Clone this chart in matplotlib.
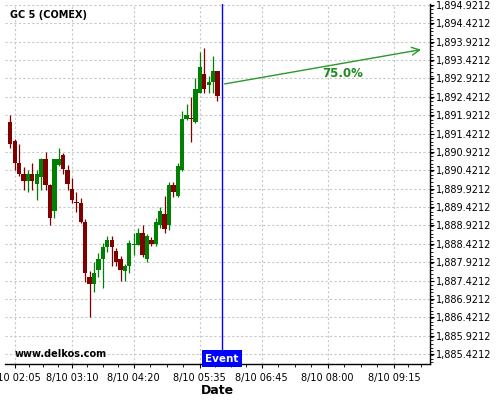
import matplotlib
matplotlib.use("Agg")
import matplotlib.pyplot as plt
import matplotlib.dates as mdates
from matplotlib.ticker import FuncFormatter, MultipleLocator
import numpy as np
import pandas as pd

# 5-minute candles, GC 5 (COMEX), 8/10 02:00 - 05:55
start = "2015-08-10 02:00"
opens = [1891.74, 1891.21, 1890.63, 1890.32, 1890.14, 1890.32, 1890.04, 1890.25, 1890.72, 1890.02,
         1889.32, 1890.57, 1890.84, 1890.43, 1889.91, 1889.56, 1889.52, 1889.02, 1887.53, 1887.33,
         1887.71, 1888.01, 1888.33, 1888.53, 1888.23, 1888.01, 1887.68, 1887.82, 1888.39, 1888.40,
         1888.72, 1888.01, 1888.53, 1888.42, 1888.93, 1889.23, 1888.93, 1890.02, 1889.73, 1890.43,
         1891.82, 1891.85, 1891.75, 1892.53, 1893.04, 1892.74, 1892.83, 1893.12]
highs = [1891.92, 1891.27, 1891.14, 1890.52, 1890.43, 1890.61, 1890.43, 1890.75, 1890.91, 1890.05,
         1890.74, 1891.02, 1890.90, 1890.57, 1890.21, 1889.82, 1889.67, 1889.10, 1887.68, 1887.93,
         1888.16, 1888.44, 1888.63, 1888.63, 1888.31, 1888.09, 1887.87, 1888.53, 1888.71, 1888.84,
         1888.93, 1888.69, 1888.61, 1889.12, 1889.43, 1889.72, 1890.11, 1890.11, 1890.61, 1892.04,
         1892.22, 1892.43, 1892.93, 1893.63, 1893.74, 1892.99, 1893.53, 1893.13]
lows = [1891.02, 1890.43, 1890.28, 1889.90, 1889.83, 1889.90, 1889.61, 1889.90, 1889.90, 1888.93,
        1889.12, 1890.55, 1890.31, 1889.90, 1889.52, 1889.30, 1888.99, 1887.39, 1886.42, 1887.10,
        1887.52, 1887.21, 1888.21, 1887.82, 1887.82, 1887.42, 1887.41, 1887.62, 1888.12, 1888.39,
        1888.06, 1887.92, 1888.36, 1888.36, 1888.85, 1888.72, 1888.80, 1889.70, 1889.70, 1890.40,
        1891.79, 1891.20, 1891.72, 1892.52, 1892.52, 1892.52, 1892.52, 1892.32]
closes = [1891.15, 1890.63, 1890.33, 1890.14, 1890.32, 1890.14, 1890.31, 1890.72, 1890.03, 1889.13,
          1890.72, 1890.72, 1890.45, 1890.04, 1889.61, 1889.53, 1889.02, 1887.63, 1887.33, 1887.63,
          1888.01, 1888.33, 1888.53, 1888.33, 1887.93, 1887.71, 1887.82, 1888.44, 1888.41, 1888.72,
          1888.12, 1888.63, 1888.41, 1889.01, 1889.31, 1888.82, 1890.02, 1889.84, 1890.54, 1891.82,
          1891.93, 1891.82, 1892.64, 1893.23, 1892.64, 1892.83, 1893.12, 1892.45]

event_time = "2015-08-10 06:00"
event_price = 1892.76
target_time = "2015-08-10 09:49"
target_price = 1893.72
prob_label = "75.0%"
label_time = "2015-08-10 08:17"
label_price = 1893.07

xtick_times = ["02:05", "03:10", "04:20", "05:35", "06:45", "08:00", "09:15"]
ytick_values = [1885.4212 + 0.5 * i for i in range(20)]

times = pd.date_range(start, periods=len(opens), freq="5min")
x = mdates.date2num(times.to_pydatetime())
o = np.array(opens)
c = np.array(closes)
h = np.array(highs)
l = np.array(lows)

fig = plt.figure(figsize=(5, 4), dpi=100)
ax = fig.add_axes([0.01, 0.089, 0.85, 0.901])

up = c >= o
cols = np.where(up, "#008000", "#800000")
w = 5 / 1440 * 0.98
ax.vlines(x, l, h, colors=cols, linewidth=0.9, zorder=3)
body_bottom = np.minimum(o, c)
body_h = np.maximum(np.abs(c - o), 0.025)
ax.bar(x, body_h, width=w, bottom=body_bottom, color=cols, linewidth=0, zorder=4)

ev = mdates.date2num(pd.Timestamp(event_time))
ax.axvline(ev, color="#0000ff", linewidth=1, zorder=5)
ax.annotate("", xy=(mdates.date2num(pd.Timestamp(target_time)), target_price),
            xytext=(ev, event_price),
            arrowprops=dict(arrowstyle="->", color="#2a9a2a", lw=1, mutation_scale=14), zorder=6)
ax.text(mdates.date2num(pd.Timestamp(label_time)), label_price, prob_label, color="#1f8a1f",
        fontsize=8.5, fontweight="bold", ha="center", va="center")

ax.text(ev, 1885.16, "Event", color="white", fontsize=7.5, fontweight="bold", ha="center",
        va="bottom", zorder=7,
        bbox=dict(boxstyle="square,pad=0.35", facecolor="#0000ff", edgecolor="none"))

ax.text(0.012, 0.969, "GC 5 (COMEX)", transform=ax.transAxes, fontsize=7, fontweight="bold",
        ha="left", va="center")
ax.text(0.0235, 0.029, "www.delkos.com", transform=ax.transAxes, fontsize=7, fontweight="bold",
        ha="left", va="center")

ax.set_xlim(mdates.date2num(pd.Timestamp("2015-08-10 01:54")),
            mdates.date2num(pd.Timestamp("2015-08-10 09:56")))
ax.set_ylim(1885.141, 1894.948)

major = [pd.Timestamp("2015-08-10 " + t) for t in xtick_times]
ax.set_xticks(mdates.date2num(major))
ax.set_xticklabels(["8/10 " + t for t in xtick_times], fontsize=7)
minor = []
for a, b in zip(major[:-1], major[1:]):
    step = (b - a) / 4
    minor += [a + step * k for k in range(1, 4)]
minor += [pd.Timestamp("2015-08-10 09:31"), pd.Timestamp("2015-08-10 09:46")]
ax.set_xticks(mdates.date2num(minor), minor=True)

ax.yaxis.tick_right()
ax.set_yticks(ytick_values)
ax.yaxis.set_major_formatter(FuncFormatter(lambda v, p: "{:,.4f}".format(v)))
ax.yaxis.set_minor_locator(MultipleLocator(0.1))
ax.tick_params(axis="y", labelsize=7, length=3, pad=1)
ax.tick_params(axis="y", which="minor", length=2)
ax.tick_params(axis="x", labelsize=7, length=3, pad=3)
ax.tick_params(axis="x", which="minor", length=2)

ax.grid(True, which="major", color="#c8c8c8", linestyle=(0, (2, 2)), linewidth=0.8)
ax.set_axisbelow(True)
for s in ["top", "left"]:
    ax.spines[s].set_visible(False)
ax.spines["right"].set_linewidth(1)
ax.spines["bottom"].set_linewidth(1)

ax.set_xlabel("Date", fontsize=9, fontweight="bold", labelpad=1)

fig.savefig("out.png", dpi=100)
